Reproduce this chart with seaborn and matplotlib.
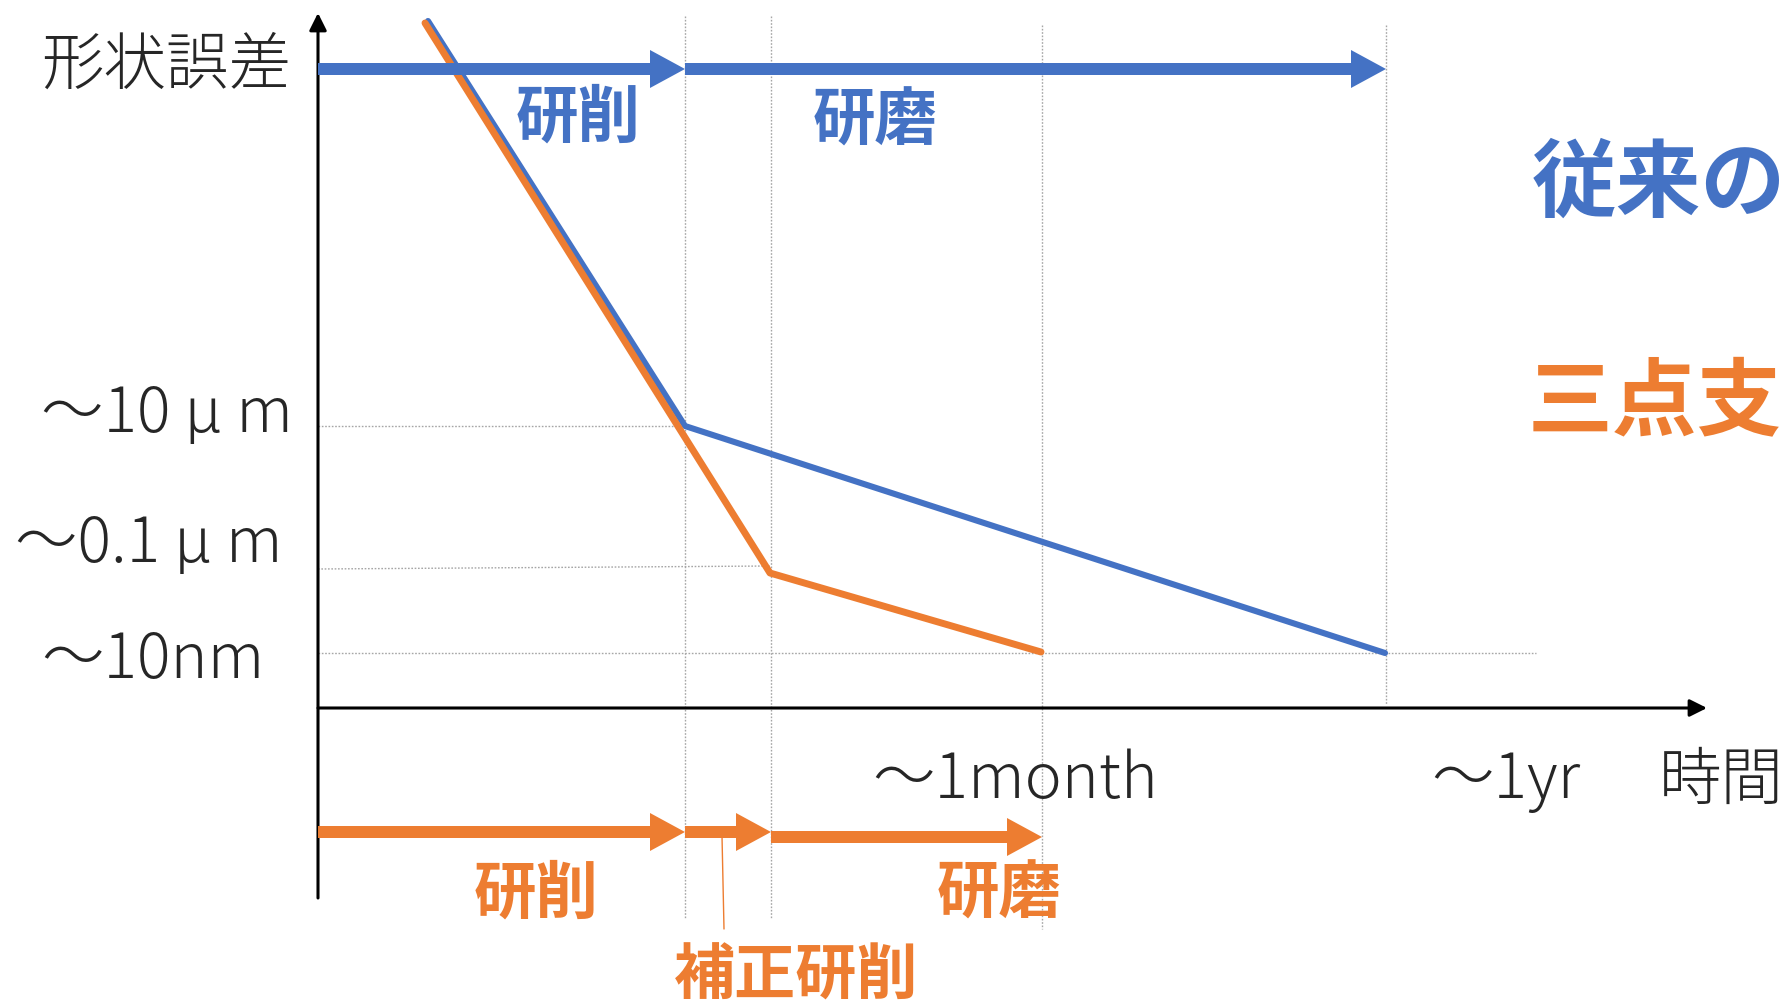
import matplotlib
matplotlib.use("Agg")
import matplotlib.pyplot as plt
import pandas as pd
import seaborn as sns

# ---- schematic data -------------------------------------------------------
# x: processing time (schematic units), y: shape error level (schematic units)
conv_time = [1.10, 3.67, 10.67]          # conventional method
conv_error = [6.87, 2.82, 0.55]
tps_time = [1.07, 4.52, 7.23]            # three-point support method
tps_error = [6.85, 1.35, 0.56]

# phase boundaries on the time axis
t_grind_end = 3.67      # end of grinding
t_corr_end = 4.53       # end of corrective grinding
t_month = 7.24          # ~1 month
t_year = 10.68          # ~1 year

# error levels marked on the vertical axis
level_values = [2.82, 1.39, 0.55]
level_labels = ["～10 μ m", "～0.1 μ m", "～10nm"]
time_labels = ["～1month", "～1yr"]

BLUE = "#4472C4"
ORANGE = "#ED7D31"
GRID = "#A6A6A6"

sns.set_style("white")
plt.rcParams["font.family"] = ["Noto Sans CJK JP", "DejaVu Sans"]

fig = plt.figure(figsize=(17.88, 10.08), dpi=100)
ax = fig.add_axes([0, 0, 1, 1])

# ---- dotted guide lines ---------------------------------------------------
dot = dict(color=GRID, lw=1.0, ls=(0, (1.2, 1.2)), zorder=1)
ax.plot([t_grind_end, t_grind_end], [6.92, -2.11], **dot)
ax.plot([t_corr_end, t_corr_end], [6.92, -2.11], **dot)
ax.plot([t_month, t_month], [6.83, -2.21], **dot)
ax.plot([t_year, t_year], [6.83, 0.03], **dot)
ax.plot([0, t_grind_end], [level_values[0], level_values[0]], **dot)
ax.plot([0, t_corr_end], [level_values[1], level_values[1] + 0.03], **dot)
ax.plot([0, 12.18], [level_values[2], level_values[2]], **dot)

# ---- error curves ---------------------------------------------------------
conv_df = pd.DataFrame({"time": conv_time, "error": conv_error})
tps_df = pd.DataFrame({"time": tps_time, "error": tps_error})
sns.lineplot(data=conv_df, x="time", y="error", sort=False, estimator=None,
             color=BLUE, linewidth=4.4, ax=ax, zorder=3)
sns.lineplot(data=tps_df, x="time", y="error", sort=False, estimator=None,
             color=ORANGE, linewidth=5.0, ax=ax, zorder=4)

# ---- coordinate axes with arrow heads -------------------------------------
axis_arrow = dict(arrowstyle="-|>", lw=2.2, color="black", mutation_scale=26,
                  shrinkA=0, shrinkB=0)
ax.annotate("", xy=(0, 6.95), xytext=(0, -1.90), arrowprops=axis_arrow, zorder=5)
ax.annotate("", xy=(13.89, 0), xytext=(0, 0), arrowprops=axis_arrow, zorder=5)

# ---- process phase arrows -------------------------------------------------
phase = dict(width=0.12, head_width=0.38, head_length=0.35,
             length_includes_head=True, lw=0, zorder=6)
ax.arrow(0, 6.39, t_grind_end, 0, color=BLUE, **phase)
ax.arrow(t_grind_end, 6.39, t_year - t_grind_end, 0, color=BLUE, **phase)
ax.arrow(0, -1.24, t_grind_end, 0, color=ORANGE, **phase)
ax.arrow(t_grind_end, -1.24, t_corr_end - t_grind_end, 0, color=ORANGE, **phase)
ax.arrow(t_corr_end, -1.29, t_month - t_corr_end, 0, color=ORANGE, **phase)

# leader line for the corrective grinding phase
ax.plot([4.04, 4.06], [-1.28, -2.21], color=ORANGE, lw=1.0, zorder=6)

# ---- axis texts -----------------------------------------------------------
light = dict(fontsize=45, fontweight="light")
ax.text(-0.27, 6.41, "形状誤差", ha="right", va="center", **light)
for val, lab, xr, yb in zip(level_values, level_labels,
                            [-0.25, -0.36, -0.54], [2.76, 1.46, 0.30]):
    ax.text(xr, yb, lab, ha="right", va="baseline", **light)
ax.text(6.97, -0.90, time_labels[0], ha="center", va="baseline", **light)
ax.text(11.88, -0.90, time_labels[1], ha="center", va="baseline", **light)
ax.text(13.41, -0.74, "時間", ha="left", va="center", **light)

# ---- phase names ----------------------------------------------------------
bold = dict(fontsize=45, fontweight="bold", ha="center", va="center")
ax.text(2.60, 5.90, "研削", color=BLUE, **bold)
ax.text(5.57, 5.87, "研磨", color=BLUE, **bold)
ax.text(2.18, -1.86, "研削", color=ORANGE, **bold)
ax.text(6.81, -1.86, "研磨", color=ORANGE, **bold)
ax.text(4.78, -2.69, "補正研削", color=ORANGE, fontsize=44, fontweight="bold",
        ha="center", va="center")

# ---- method names ---------------------------------------------------------
ax.text(12.14, 5.24, "従来の", color=BLUE, fontsize=61, fontweight="bold",
        ha="left", va="center")
ax.text(12.10, 3.05, "三点支", color=ORANGE, fontsize=61, fontweight="bold",
        ha="left", va="center")

ax.set_xlim(-3.18, 14.70)
ax.set_ylim(-3.00, 7.08)
ax.axis("off")

fig.savefig("out.png", dpi=100, facecolor="white")
